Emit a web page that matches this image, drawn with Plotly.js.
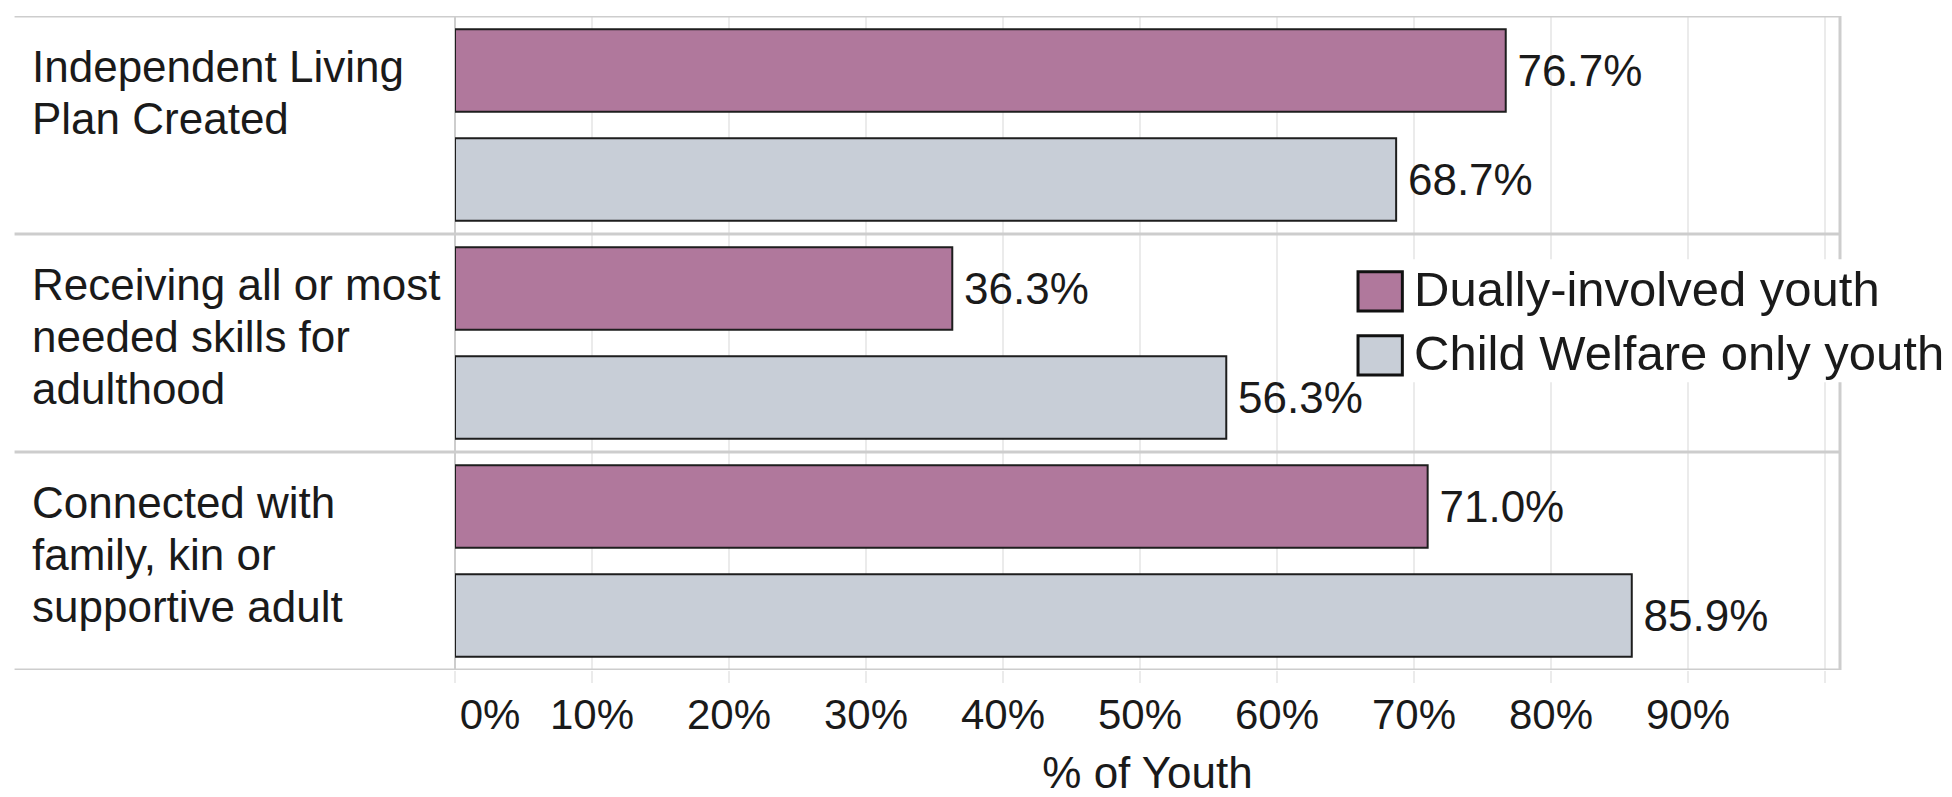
<!DOCTYPE html>
<html>
<head>
<meta charset="utf-8">
<script src="https://cdn.plot.ly/plotly-3.0.1.min.js"></script>
<style>
  html, body { margin: 0; padding: 0; background: #ffffff; }
  #chart { width: 1952px; height: 797px; }
</style>
</head>
<body>
<div id="chart"></div>
<script>
// ---- data ----
const categories = [
  "Independent Living Plan Created",
  "Receiving all or most needed skills for adulthood",
  "Connected with family, kin or supportive adult"
];
const categoryLabelLines = [
  ["Independent Living", "Plan Created"],
  ["Receiving all or most", "needed skills for", "adulthood"],
  ["Connected with", "family, kin or", "supportive adult"]
];
const seriesNames = ["Dually-involved youth", "Child Welfare only youth"];
const duallyInvolved = [76.7, 36.3, 71.0];
const childWelfareOnly = [68.7, 56.3, 85.9];
const tickValues = [0, 10, 20, 30, 40, 50, 60, 70, 80, 90, 100];
const tickLabels = ["0%", "10%", "20%", "30%", "40%", "50%", "60%", "70%", "80%", "90%", ""];
const axisTitle = "% of Youth";

// ---- style ----
const FONT = "Liberation Sans, Arial, Helvetica, sans-serif";
const colors = ["#b0789c", "#c8ced7"];
const lineGrey = "#cdcdcd";
const gridGrey = "#ebebeb";

const seriesValues = [duallyInvolved, childWelfareOnly];
const traces = seriesValues.map((vals, i) => ({
  type: "bar",
  orientation: "h",
  name: seriesNames[i],
  y: categories,
  x: vals,
  marker: { color: colors[i], line: { color: "#1e1e1e", width: 2 } },
  texttemplate: "\u2009%{x:.1f}%",
  textposition: "outside",
  textfont: { family: FONT, size: 44, color: "#1a1a1a" },
  cliponaxis: false,
  showlegend: false,
  hoverinfo: "x+name"
}));

// 0% label sits to the right of its gridline, as in the source
const shownTickText = tickLabels.map((t, i) => tickValues[i] === 0 ? "\u00a0\u00a0\u00a0\u00a0\u00a0\u00a0" + t : t);

const leftEdge = -0.318;
const shapes = [];
// row separators, extending into the label column
for (let k = 0; k <= categories.length; k++) {
  shapes.push({
    type: "line", xref: "paper", yref: "y",
    x0: leftEdge, x1: 1, y0: k - 0.5, y1: k - 0.5,
    line: { color: lineGrey, width: 3 }, layer: "above"
  });
}
// right border
shapes.push({
  type: "line", xref: "paper", yref: "paper",
  x0: 1, x1: 1, y0: 0, y1: 1,
  line: { color: lineGrey, width: 3 }, layer: "above"
});
// legend background
shapes.push({
  type: "rect", xref: "paper", yref: "paper",
  x0: 0.688, x1: 1.081, y0: 0.440, y1: 0.628,
  fillcolor: "#ffffff", line: { width: 0 }, layer: "above"
});
// legend swatches
const swatchY = [[0.549, 0.609], [0.451, 0.511]];
seriesNames.forEach((n, i) => {
  shapes.push({
    type: "rect", xref: "paper", yref: "paper",
    x0: 0.652, x1: 0.684, y0: swatchY[i][0], y1: swatchY[i][1],
    fillcolor: colors[i], line: { color: "#111111", width: 3 }, layer: "above"
  });
});

const annotations = [];
categoryLabelLines.forEach((lines, i) => {
  lines.forEach((line, j) => {
    annotations.push({
      xref: "paper", yref: "y",
      x: -0.307, y: i - 0.5,
      xanchor: "left", yanchor: "middle", align: "left",
      yshift: -(50 + j * 52),
      text: line, showarrow: false,
      font: { family: FONT, size: 44, color: "#1a1a1a" }
    });
  });
});
seriesNames.forEach((n, i) => {
  annotations.push({
    xref: "paper", yref: "paper",
    x: 0.691, y: (swatchY[i][0] + swatchY[i][1]) / 2 + 0.003,
    xanchor: "left", yanchor: "middle",
    text: n, showarrow: false,
    font: { family: FONT, size: 49, color: "#1a1a1a" }
  });
});

const layout = {
  width: 1952, height: 797,
  paper_bgcolor: "#ffffff", plot_bgcolor: "#ffffff",
  margin: { l: 455, r: 112, t: 16, b: 127 },
  barmode: "group",
  bargap: 0,
  bargroupgap: 0.245,
  showlegend: false,
  xaxis: {
    range: [0, 101.1],
    tickmode: "array",
    tickvals: tickValues,
    ticktext: shownTickText,
    showgrid: true, gridcolor: gridGrey, gridwidth: 2,
    zeroline: true, zerolinecolor: lineGrey, zerolinewidth: 2,
    ticks: "outside", ticklen: 12, tickcolor: gridGrey, tickwidth: 2,
    ticklabelstandoff: -4,
    tickfont: { family: FONT, size: 42, color: "#1a1a1a" },
    showline: false,
    fixedrange: true,
    automargin: false,
    title: { text: axisTitle, standoff: 36, font: { family: FONT, size: 44, color: "#1a1a1a" } }
  },
  yaxis: {
    type: "category",
    range: [categories.length - 0.5, -0.5],
    showticklabels: false,
    showgrid: false, zeroline: false, showline: false,
    ticks: "",
    fixedrange: true,
    automargin: false
  },
  shapes: shapes,
  annotations: annotations
};

Plotly.newPlot("chart", traces, layout, { displayModeBar: false, staticPlot: true });
</script>
</body>
</html>
